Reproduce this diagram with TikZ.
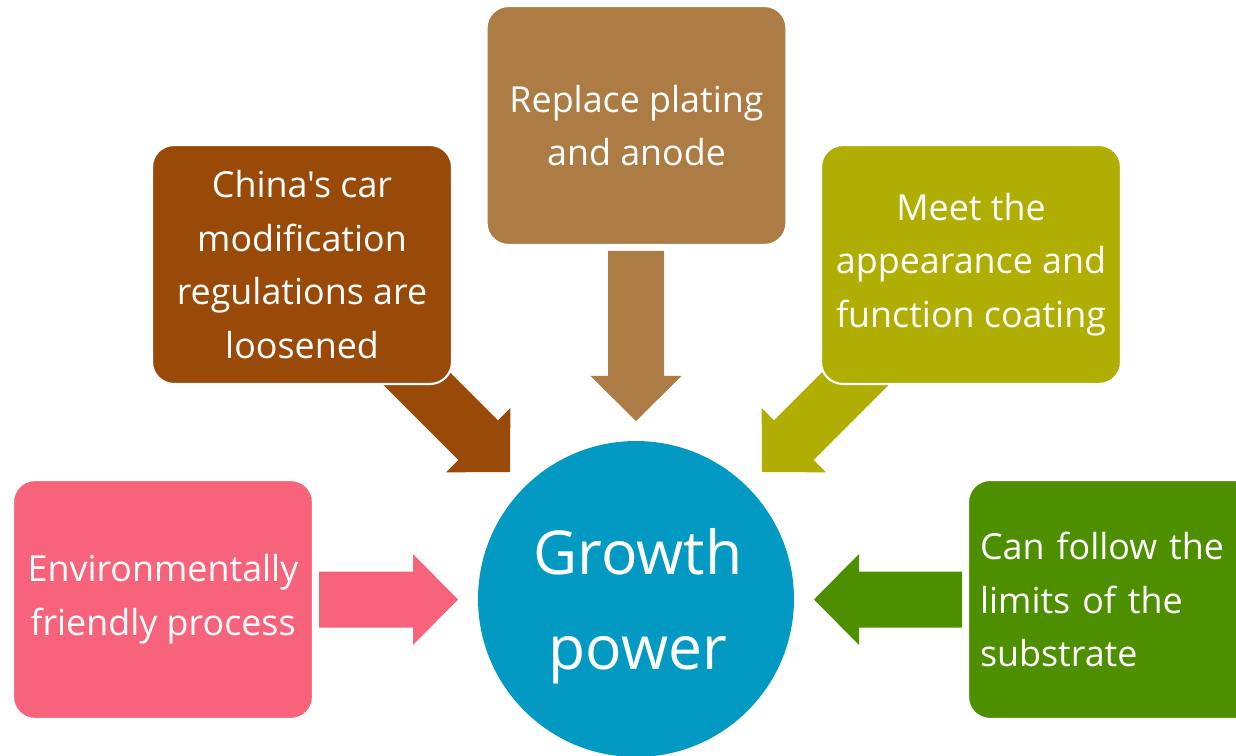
\documentclass[tikz,border=0pt]{standalone}
\usepackage{fontspec}
\newfontfamily\labelfont{Open Sans}
\definecolor{cTop}{HTML}{AD7B44}
\definecolor{cLeftUp}{HTML}{9A4A08}
\definecolor{cRightUp}{HTML}{B0AE02}
\definecolor{cPink}{HTML}{F8637C}
\definecolor{cGreen}{HTML}{4E8F00}
\definecolor{cBlue}{HTML}{029AC2}
\tikzset{
  card/.style={rectangle, rounded corners=0.44cm, draw=white, line width=1.2pt,
    minimum width=6cm, minimum height=4.78cm, inner sep=0.24cm,
    text=white, align=center, font=\labelfont\fontsize{20.4pt}{30.6pt}\selectfont},
  hub/.style={circle, fill=cBlue, minimum size=6.32cm, inner sep=0pt},
  hubtext/.style={text=white, align=center, font=\labelfont\fontsize{34.5pt}{54pt}\selectfont},
  % block arrow with its tip at the origin, pointing along +x
  pics/blockarrow/.style={code={
    \fill (0,0) -- (-45,45.5) -- (-45,28) -- (-45-#1,28) -- (-45-#1,-28)
      -- (-45,-28) -- (-45,-45.5) -- cycle;
  }}
}
\begin{document}
\begin{tikzpicture}[x=0.02cm, y=-0.02cm]
\useasboundingbox (0,0) rectangle (1236,756);
\clip (0,0) rectangle (1236,756);

% arrow tips around the hub
\coordinate (tipTop) at (636,421);
\coordinate (tipLeftUp) at (510,472);
\coordinate (tipRightUp) at (762,472);
\coordinate (tipLeft) at (458,599.5);
\coordinate (tipRight) at (814,599.5);

% block arrows (drawn first, the cards overlap their tails)
\pic[fill=cTop, rotate=-90] at (tipTop) {blockarrow=125};
\pic[fill=cLeftUp, rotate=-45] at (tipLeftUp) {blockarrow=110};
\pic[fill=cRightUp, rotate=-135] at (tipRightUp) {blockarrow=110};
\pic[fill=cPink] at (tipLeft) {blockarrow=94};
\pic[fill=cGreen, rotate=180] at (tipRight) {blockarrow=103};

% hub
\node[hub] (hub) at (636,599) {};
\node[hubtext] (hubLabel) at (638,606) {Growth\\power};

% cards
\node[card, fill=cTop] (plating) at (636.5,125.5) {Replace plating\\and anode};
\node[card, fill=cLeftUp] (china) at (302,264.5) {China's car\\modification\\regulations are\\loosened};
\node[card, fill=cRightUp] (meet) at (971,264.5) {Meet the\\appearance and\\function coating};
\node[card, fill=cPink] (env) at (163,599.5) {Environmentally\\friendly process};
\node[card, fill=cGreen, align=left, text width=5.52cm] (sub) at (1118,599.5) {Can follow the\\limits of the\\substrate};
\end{tikzpicture}
\end{document}
